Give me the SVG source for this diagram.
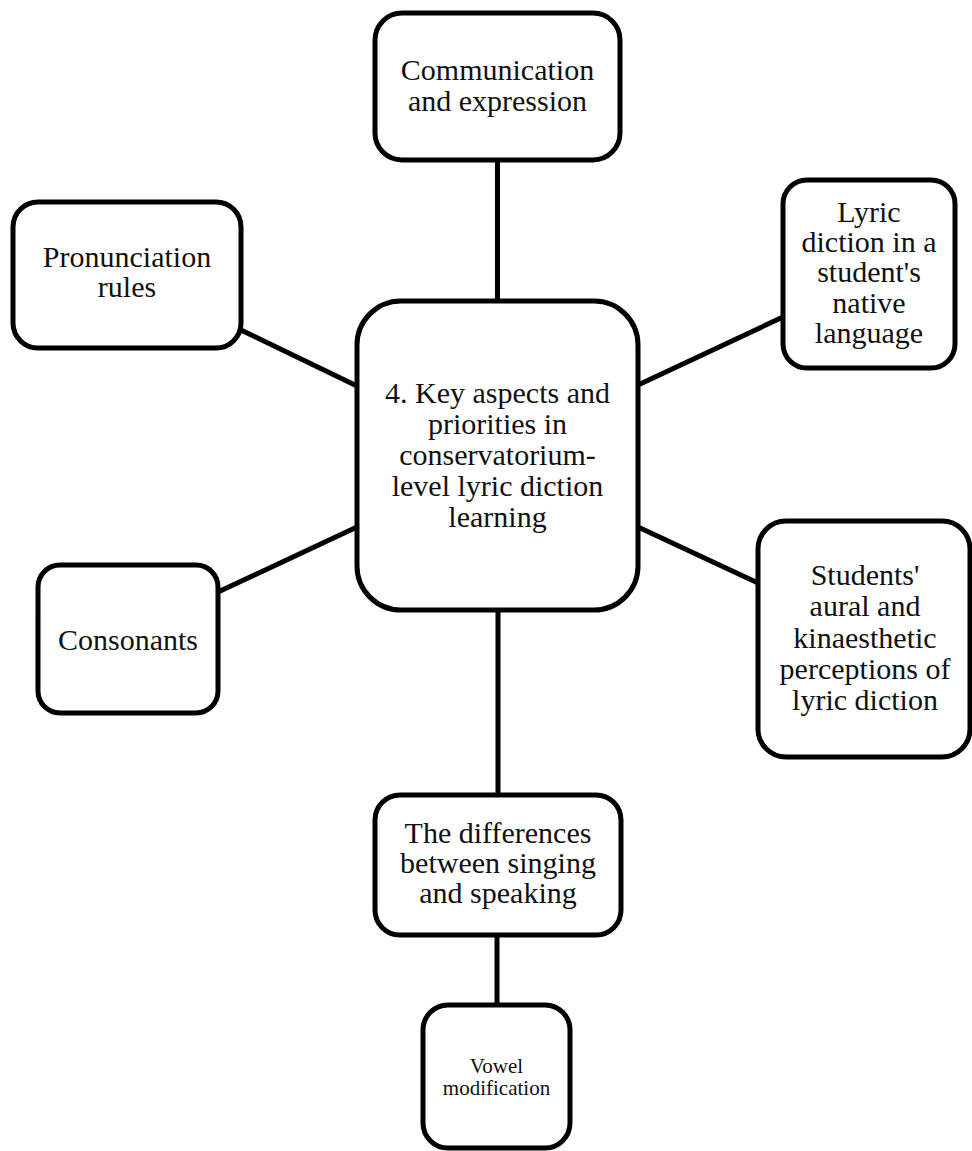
<svg xmlns="http://www.w3.org/2000/svg" width="972" height="1151" viewBox="0 0 972 1151">
<style>
.box{fill:#fff;stroke:#000;stroke-width:5}
.ln{stroke:#000;stroke-width:5;fill:none}
text{font-family:"Liberation Serif","Times New Roman",serif;font-size:30px;fill:#111;text-anchor:middle}
.sm{font-size:21px}
</style>
<rect width="972" height="1151" fill="#fff"/>
<g id="connectors">
<line class="ln" x1="497.5" y1="160" x2="497.5" y2="301"/>
<line class="ln" x1="241" y1="330" x2="357" y2="386"/>
<line class="ln" x1="638" y1="385" x2="783" y2="317"/>
<line class="ln" x1="218" y1="592" x2="357" y2="527"/>
<line class="ln" x1="638" y1="527" x2="758" y2="583"/>
<line class="ln" x1="498" y1="610" x2="498" y2="795"/>
<line class="ln" x1="497" y1="935" x2="497" y2="1005"/>
</g>
<g id="n-communication">
<rect class="box" x="375" y="13" width="245" height="147" rx="27"/>
<text x="497.5" y="80">Communication</text>
<text x="497.5" y="111">and expression</text>
</g>
<g id="n-pronunciation">
<rect class="box" x="13" y="202" width="228" height="146" rx="25"/>
<text x="127" y="267">Pronunciation</text>
<text x="127" y="297">rules</text>
</g>
<g id="n-lyric">
<rect class="box" x="783" y="180" width="172" height="188" rx="24"/>
<text x="869" y="222">Lyric</text>
<text x="869" y="252">diction in a</text>
<text x="869" y="282">student's</text>
<text x="869" y="313">native</text>
<text x="869" y="343">language</text>
</g>
<g id="n-center">
<rect class="box" x="357" y="301" width="281" height="309" rx="44"/>
<text x="497.5" y="403">4. Key aspects and</text>
<text x="497.5" y="434">priorities in</text>
<text x="497.5" y="465">conservatorium-</text>
<text x="497.5" y="496">level lyric diction</text>
<text x="497.5" y="527">learning</text>
</g>
<g id="n-consonants">
<rect class="box" x="38" y="565" width="180" height="148" rx="22"/>
<text x="128" y="650">Consonants</text>
</g>
<g id="n-students">
<rect class="box" x="758" y="521" width="212" height="236" rx="28"/>
<text x="865" y="585">Students'</text>
<text x="865" y="616">aural and</text>
<text x="865" y="648">kinaesthetic</text>
<text x="865" y="679">perceptions of</text>
<text x="865" y="710">lyric diction</text>
</g>
<g id="n-differences">
<rect class="box" x="375" y="795" width="246" height="140" rx="25"/>
<text x="498" y="843">The differences</text>
<text x="498" y="873">between singing</text>
<text x="498" y="903">and speaking</text>
</g>
<g id="n-vowel">
<rect class="box" x="423" y="1005" width="147" height="143" rx="25"/>
<text class="sm" x="496.5" y="1073">Vowel</text>
<text class="sm" x="496.5" y="1095">modification</text>
</g>
</svg>
